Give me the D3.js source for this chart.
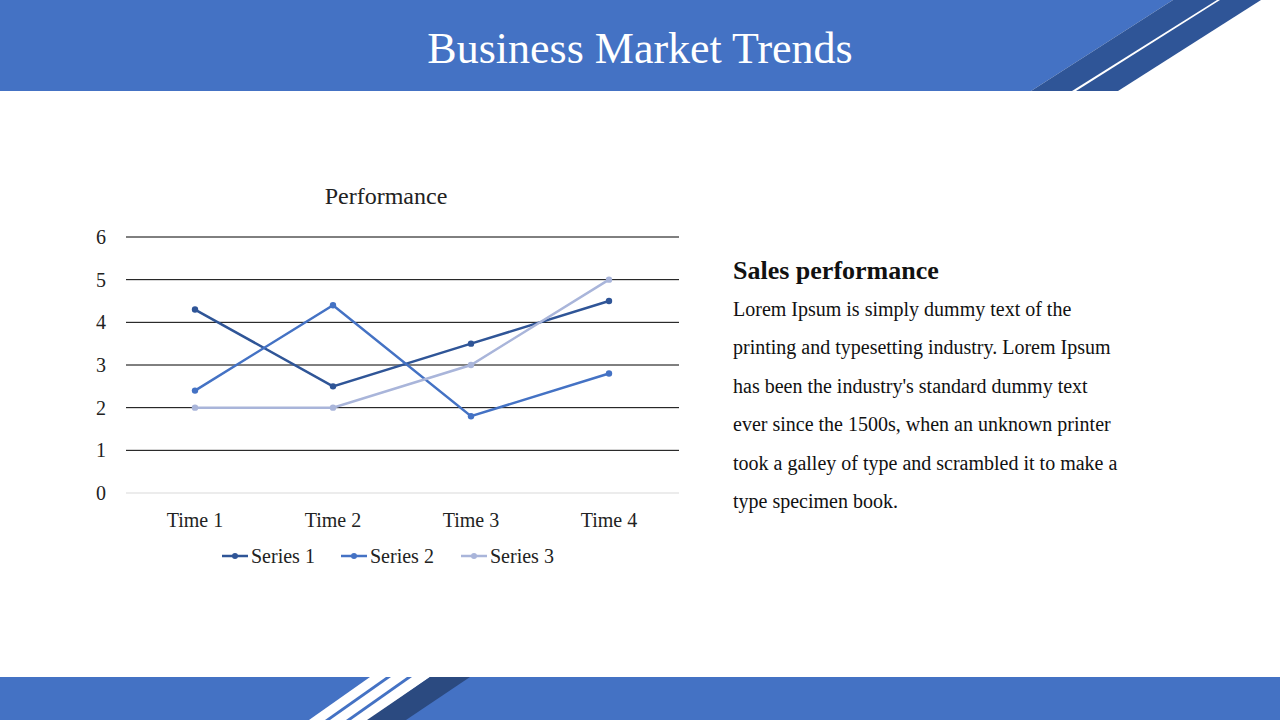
<!DOCTYPE html>
<html><head><meta charset="utf-8">
<script src="https://cdn.jsdelivr.net/npm/d3@7"></script>
<style>body{margin:0;background:#fff;}svg{display:block;font-family:"Liberation Serif",serif;}</style>
</head><body>
<svg id="c" width="1280" height="720"></svg>
<script>
const categories = ["Time 1","Time 2","Time 3","Time 4"];
const seriesNames = ["Series 1","Series 2","Series 3"];
const series1 = [4.3,2.5,3.5,4.5];
const series2 = [2.4,4.4,1.8,2.8];
const series3 = [2,2,3,5];
const yTicks = [0,1,2,3,4,5,6];
const colors = ["#2f5597","#4472c4","#a9b5da"];
const svg = d3.select("#c");
// header
svg.append("path").attr("d","M0,0H1173L1031,91H0Z").attr("fill","#4472c4");
svg.append("path").attr("d","M1173,0H1217L1072,91H1031Z").attr("fill","#2f5597");
svg.append("path").attr("d","M1220,0H1261L1118,91H1076Z").attr("fill","#2f5597");
svg.append("text").attr("x",640).attr("y",63).attr("text-anchor","middle").attr("fill","#fff").attr("font-size",44).text("Business Market Trends");
// footer
svg.append("rect").attr("x",0).attr("y",677).attr("width",1280).attr("height",43).attr("fill","#4472c4");
[[370,386],[391,407],[412,430]].forEach(([a,b])=>svg.append("path").attr("d",`M${a},677H${b}L${b-61},720H${a-61}Z`).attr("fill","#fff"));
svg.append("path").attr("d","M430,677H470L406,720H367Z").attr("fill","#2b4a80");
// chart
const x = d3.scalePoint().domain(categories).range([195,609]);
const y = d3.scaleLinear().domain([0,6]).range([493,237]);
svg.append("text").attr("x",386).attr("y",204).attr("text-anchor","middle").attr("font-size",24).attr("fill","#222").text("Performance");
yTicks.forEach(t=>{
  svg.append("line").attr("x1",126).attr("x2",679).attr("y1",y(t)).attr("y2",y(t)).attr("stroke",t===0?"#d9d9d9":"#000").attr("stroke-width",1);
  svg.append("text").attr("x",106).attr("y",y(t)+7).attr("text-anchor","end").attr("font-size",20).attr("fill","#222").text(t);
});
categories.forEach(c=>svg.append("text").attr("x",x(c)).attr("y",527).attr("text-anchor","middle").attr("font-size",20).attr("fill","#222").text(c));
const all=[series1,series2,series3];
const line=d3.line().x((d,i)=>x(categories[i])).y(d=>y(d));
all.forEach((s,k)=>{
  svg.append("path").attr("d",line(s)).attr("fill","none").attr("stroke",colors[k]).attr("stroke-width",2.5);
  s.forEach((v,i)=>svg.append("circle").attr("cx",x(categories[i])).attr("cy",y(v)).attr("r",3.2).attr("fill",colors[k]));
});
const lx=[222,341,461];
seriesNames.forEach((n,k)=>{
  svg.append("line").attr("x1",lx[k]).attr("x2",lx[k]+26).attr("y1",556).attr("y2",556).attr("stroke",colors[k]).attr("stroke-width",2.5);
  svg.append("circle").attr("cx",lx[k]+13).attr("cy",556).attr("r",3).attr("fill",colors[k]);
  svg.append("text").attr("x",lx[k]+29).attr("y",563).attr("font-size",20).attr("fill","#222").text(n);
});
// text block
svg.append("text").attr("x",733).attr("y",279).attr("font-size",26).attr("font-weight","bold").attr("fill","#111").text("Sales performance");
const lines=["Lorem Ipsum is simply dummy text of the","printing and typesetting industry. Lorem Ipsum","has been the industry's standard dummy text","ever since the 1500s, when an unknown printer","took a galley of type and scrambled it to make a","type specimen book."];
lines.forEach((l,i)=>svg.append("text").attr("x",733).attr("y",316+i*38.4).attr("font-size",20).attr("fill","#111").text(l));
</script>
</body></html>
